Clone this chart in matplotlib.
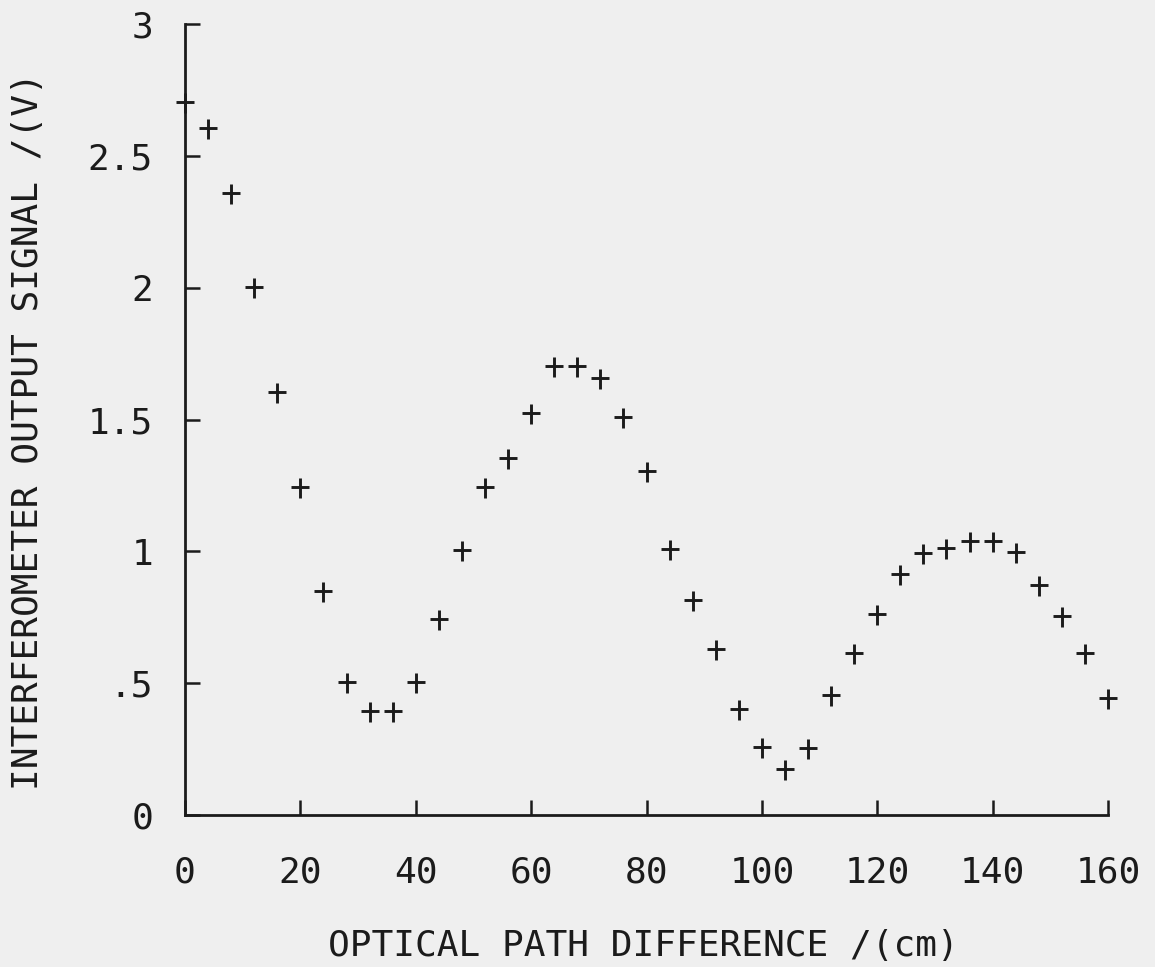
import matplotlib
matplotlib.use("Agg")
import matplotlib.pyplot as plt
from matplotlib.path import Path

# Optical path difference (cm)
opd_cm = [0, 4, 8, 12, 16, 20, 24, 28, 32, 36, 40, 44, 48, 52, 56, 60, 64, 68, 72, 76,
          80, 84, 88, 92, 96, 100, 104, 108, 112, 116, 120, 124, 128, 132, 136, 140,
          144, 148, 152, 156, 160]
# Interferometer output signal (V)
signal_v = [2.70, 2.60, 2.355, 2.00, 1.60, 1.24, 0.846, 0.50, 0.39, 0.39, 0.50, 0.74,
            1.00, 1.24, 1.35, 1.52, 1.70, 1.70, 1.655, 1.505, 1.30, 1.005, 0.81, 0.624,
            0.40, 0.255, 0.17, 0.25, 0.45, 0.61, 0.758, 0.91, 0.99, 1.01, 1.036, 1.036,
            0.995, 0.87, 0.75, 0.61, 0.44]

xticks = [0, 20, 40, 60, 80, 100, 120, 140, 160]
yticks = [0, 0.5, 1, 1.5, 2, 2.5, 3]
ytick_labels = ["0", ".5", "1", "1.5", "2", "2.5", "3"]

ink = "#1b1b1b"
bg = "#efefef"

plt.rcParams['font.family'] = ['DejaVu Sans Mono', 'DejaVu Sans']

# slightly tall plus sign like the pen-plotter marker
plus_path = Path([(-0.82, 0.08), (0.82, 0.08), (0, -1), (0, 1)],
                 [Path.MOVETO, Path.LINETO, Path.MOVETO, Path.LINETO])

fig = plt.figure(figsize=(11.55, 9.67), dpi=100, facecolor=bg)
ax = fig.add_axes([185/1155, 1 - 815/967, 923/1155, 791/967])
ax.set_facecolor(bg)

ax.plot(opd_cm, signal_v, linestyle='none', marker=plus_path, markersize=15,
        markeredgewidth=2.1, markerfacecolor='none', color=ink, clip_on=False, zorder=3)

ax.set_xlim(0, 160)
ax.set_ylim(0, 3)
for s in ['top', 'right']:
    ax.spines[s].set_visible(False)
for s in ['left', 'bottom']:
    ax.spines[s].set_linewidth(2.0)
    ax.spines[s].set_color(ink)

ax.set_xticks(xticks)
ax.set_xticklabels([str(t) for t in xticks])
ax.set_yticks(yticks)
ax.set_yticklabels(ytick_labels)

ax.tick_params(axis='both', direction='in', length=11, width=1.8, color=ink,
               labelcolor=ink, labelsize=26)
ax.tick_params(axis='x', pad=29)
ax.tick_params(axis='y', pad=23)

ax.set_xlabel("OPTICAL PATH DIFFERENCE /(cm)", fontsize=26, color=ink)
ax.set_ylabel("INTERFEROMETER OUTPUT SIGNAL /(V)", fontsize=26, color=ink)
ax.xaxis.set_label_coords(0.497, -0.1656)
ax.yaxis.set_label_coords(-0.170, 0.485)
ax.xaxis.label.set_verticalalignment('center')
ax.yaxis.label.set_verticalalignment('center')

fig.savefig("out.png", dpi=100, facecolor=bg)
